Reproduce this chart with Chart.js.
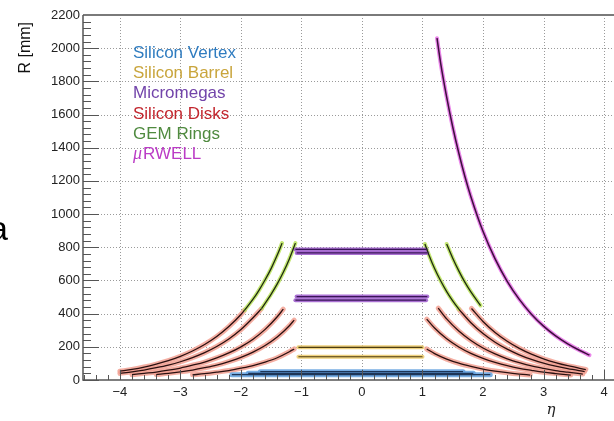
<!DOCTYPE html>
<html>
<head>
<meta charset="utf-8">
<script src="https://cdn.jsdelivr.net/npm/chart.js@4.4.1/dist/chart.umd.min.js"></script>
<style>
  html, body { margin: 0; padding: 0; background: #ffffff; }
  #wrap { width: 614px; height: 421px; position: relative; }
</style>
</head>
<body>
<div id="wrap"><canvas id="c" width="614" height="421"></canvas></div>
<script>
// ---------------- axis ticks ----------------
const xTickValues = [-4, -3, -2, -1, 0, 1, 2, 3, 4];
const xTickLabels = ['\u22124', '\u22123', '\u22122', '\u22121', '0', '1', '2', '3', '4'];
const yTickValues = [0, 200, 400, 600, 800, 1000, 1200, 1400, 1600, 1800, 2000, 2200];
const yTickLabels = ['0', '200', '400', '600', '800', '1000', '1200', '1400', '1600', '1800', '2000', '2200'];

// ---------------- legend ----------------
const legendNames = ['Silicon Vertex', 'Silicon Barrel', 'Micromegas', 'Silicon Disks', 'GEM Rings', '\u03bcRWELL'];
const legendColors = ['#2f7cc0', '#c9a53c', '#7244aa', '#c2262e', '#4f8a3f', '#bb3cc6'];

// ---------------- Silicon Vertex (eta, R[mm]) ----------------
const vtxEta1 = [-2.15, 2.12];  const vtxR1 = [32, 32];
const vtxEta2 = [-1.88, 1.84];  const vtxR2 = [40, 40];
const vtxEta3 = [-1.68, 1.67];  const vtxR3 = [50, 50];

// ---------------- Silicon Barrel ----------------
const barEta = [-1.05, 1.0];
const barR1 = [197, 197];
const barR2 = [140, 140];

// ---------------- Micromegas ----------------
const mmEtaA = [-1.10, 1.06];
const mmEtaB = [-1.08, 1.08];
const mmR1 = [787, 787];
const mmR2 = [766, 766];
const mmR3 = [503, 503];
const mmR4 = [481, 481];

// ---------------- muRWELL ----------------
const rwEta = [1.24, 1.3, 1.4, 1.5, 1.6, 1.7, 1.8, 2.0, 2.2, 2.4, 2.6, 2.8, 3.0, 3.2, 3.4, 3.6, 3.76];
const rwR   = [2060, 1910, 1705, 1525, 1368, 1228, 1105, 896, 730, 595, 486, 397, 325, 266, 218, 178, 150];

// ---------------- GEM Rings ----------------
const gemR1Eta = [1.04, 1.1, 1.2, 1.3, 1.4, 1.5, 1.6];
const gemR1R   = [820, 760, 672, 598, 533, 477, 427];
const gemR2Eta = [1.40, 1.5, 1.6, 1.7, 1.8, 1.96];
const gemR2R   = [820, 734, 658, 590, 531, 449];
const gemL1Eta = [-1.66, -1.5, -1.4, -1.3, -1.2, -1.1];
const gemL1R   = [430, 518, 579, 649, 730, 825];
const gemL2Eta = [-1.94, -1.8, -1.7, -1.6, -1.5, -1.4, -1.32];
const gemL2R   = [421, 487, 542, 604, 673, 753, 825];

// ---------------- Silicon Disks ----------------
const dRAEta = [1.81, 2.0, 2.2, 2.4, 2.6, 2.8, 3.0, 3.2, 3.4, 3.7];
const dRAR   = [431, 353, 287, 234, 191, 156, 128, 105, 86, 63];
const dRBEta = [1.6, 1.8, 2.0, 2.2, 2.4, 2.6, 2.8, 3.0, 3.2, 3.4, 3.68];
const dRBR   = [427, 345, 280, 228, 186, 152, 124, 101, 83, 68, 51];
const dRCEta = [1.26, 1.4, 1.6, 1.8, 2.0, 2.2, 2.4, 2.6, 2.8, 3.0, 3.2, 3.4, 3.65];
const dRCR   = [433, 368, 295, 238, 193, 157, 128, 105, 85, 70, 57, 47, 36];
const dRDEta = [1.07, 1.2, 1.4, 1.6, 1.8, 2.0, 2.2, 2.4, 2.6, 2.8, 3.0, 3.2, 3.45];
const dRDR   = [367, 313, 248, 199, 160, 130, 106, 86, 70, 58, 47, 39, 30];
const dREEta = [1.07, 1.2, 1.4, 1.6, 1.8, 2.0, 2.2, 2.4, 2.6, 2.78];
const dRER   = [187, 159, 126, 101, 82, 66, 54, 44, 36, 30];

const dLAEta = [-4.0, -3.8, -3.6, -3.4, -3.2, -3.0, -2.8, -2.6, -2.4, -2.2, -2.0, -1.94];
const dLAR   = [53, 64, 78, 96, 117, 143, 175, 214, 262, 322, 395, 421];
const dLBEta = [-4.0, -3.8, -3.6, -3.4, -3.2, -3.0, -2.8, -2.6, -2.4, -2.2, -2.0, -1.8, -1.66];
const dLBR   = [40, 49, 60, 74, 90, 110, 135, 165, 202, 247, 304, 375, 430];
const dLCEta = [-3.8, -3.6, -3.4, -3.2, -3.0, -2.8, -2.6, -2.4, -2.2, -2.0, -1.8, -1.6, -1.4, -1.3];
const dLCR   = [32, 40, 48, 59, 72, 89, 108, 133, 163, 200, 246, 305, 381, 427];
const dLDEta = [-3.4, -3.2, -3.0, -2.8, -2.6, -2.4, -2.2, -2.0, -1.8, -1.6, -1.4, -1.2, -1.12];
const dLDR   = [33, 40, 49, 60, 74, 90, 111, 136, 168, 208, 259, 327, 361];
const dLEEta = [-2.8, -2.6, -2.4, -2.2, -2.0, -1.8, -1.6, -1.4, -1.2, -1.12];
const dLER   = [31, 38, 47, 57, 71, 87, 108, 134, 170, 187];

// ---------------- styles ----------------
const STY = {
  vtx:  { band: 'rgba(98,160,222,0.85)', bw: 5, line: '#1d3557', lw: 1.2 },
  bar:  { band: 'rgba(236,204,112,0.9)', bw: 4, line: '#4d3d12', lw: 1.2 },
  mm:   { band: 'rgba(160,96,205,0.9)',  bw: 4, line: '#3a1458', lw: 1.2 },
  disk: { band: 'rgba(242,160,146,0.85)', bw: 5, line: '#2a1010', lw: 1.3 },
  gem:  { band: 'rgba(190,228,100,0.9)', bw: 4, line: '#1e2a10', lw: 1.3 },
  rw:   { band: 'rgba(232,120,232,0.9)', bw: 4, line: '#3d103d', lw: 1.5 }
};

const datasets = [];
function seg(label, etas, rs, s) {
  const pts = etas.map((e, i) => ({ x: e, y: rs[i] }));
  const common = { showLine: true, pointRadius: 0, pointHoverRadius: 0,
                   cubicInterpolationMode: 'monotone', fill: false };
  datasets.push(Object.assign({}, common, { label: label + ' band', data: pts,
    borderColor: s.band, borderWidth: s.bw, borderCapStyle: 'round', order: 2 }));
  datasets.push(Object.assign({}, common, { label: label, data: pts,
    borderColor: s.line, borderWidth: s.lw, order: 1 }));
}

seg('Silicon Vertex 1', vtxEta1, vtxR1, STY.vtx);
seg('Silicon Vertex 2', vtxEta2, vtxR2, STY.vtx);
seg('Silicon Vertex 3', vtxEta3, vtxR3, STY.vtx);
seg('Silicon Barrel 1', barEta, barR1, STY.bar);
seg('Silicon Barrel 2', barEta, barR2, STY.bar);
seg('Micromegas 1', mmEtaA, mmR1, STY.mm);
seg('Micromegas 2', mmEtaB, mmR2, STY.mm);
seg('Micromegas 3', mmEtaB, mmR3, STY.mm);
seg('Micromegas 4', mmEtaA, mmR4, STY.mm);
seg('muRWELL', rwEta, rwR, STY.rw);
seg('GEM R1', gemR1Eta, gemR1R, STY.gem);
seg('GEM R2', gemR2Eta, gemR2R, STY.gem);
seg('GEM L1', gemL1Eta, gemL1R, STY.gem);
seg('GEM L2', gemL2Eta, gemL2R, STY.gem);
seg('Disk RA', dRAEta, dRAR, STY.disk);
seg('Disk RB', dRBEta, dRBR, STY.disk);
seg('Disk RC', dRCEta, dRCR, STY.disk);
seg('Disk RD', dRDEta, dRDR, STY.disk);
seg('Disk RE', dREEta, dRER, STY.disk);
seg('Disk LA', dLAEta, dLAR, STY.disk);
seg('Disk LB', dLBEta, dLBR, STY.disk);
seg('Disk LC', dLCEta, dLCR, STY.disk);
seg('Disk LD', dLDEta, dLDR, STY.disk);
seg('Disk LE', dLEEta, dLER, STY.disk);

const SANS = '"Liberation Sans", Arial, Helvetica, sans-serif';

const decor = {
  id: 'decor',
  beforeDatasetsDraw(chart) {
    const { ctx, chartArea: a, scales: { x, y } } = chart;
    ctx.save();
    ctx.strokeStyle = '#9a9a9a';
    ctx.lineWidth = 1;
    ctx.setLineDash([1, 2]);
    xTickValues.forEach(v => {
      const px = Math.round(x.getPixelForValue(v)) + 0.5;
      ctx.beginPath(); ctx.moveTo(px, a.top); ctx.lineTo(px, a.bottom); ctx.stroke();
    });
    yTickValues.forEach(v => {
      if (v === 0) return;
      const py = Math.round(y.getPixelForValue(v)) + 0.5;
      ctx.beginPath(); ctx.moveTo(a.left, py); ctx.lineTo(a.right, py); ctx.stroke();
    });
    ctx.restore();
  },
  afterDatasetsDraw(chart) {
    const { ctx, chartArea: a, scales: { x, y } } = chart;
    ctx.save();
    // ticks
    ctx.strokeStyle = '#555';
    ctx.lineWidth = 1;
    const xMin = x.min, xMax = x.max;
    for (let k = Math.ceil(xMin / 0.2); k * 0.2 <= xMax + 1e-9; k++) {
      const v = k * 0.2;
      const major = Math.abs(v - Math.round(v)) < 1e-6;
      const px = Math.round(x.getPixelForValue(v)) + 0.5;
      ctx.beginPath(); ctx.moveTo(px, a.bottom); ctx.lineTo(px, a.bottom - (major ? 10 : 5)); ctx.stroke();
    }
    for (let v = 0; v <= 2200; v += 40) {
      const major = v % 200 === 0;
      const py = Math.round(y.getPixelForValue(v)) + 0.5;
      ctx.beginPath(); ctx.moveTo(a.left, py); ctx.lineTo(a.left + (major ? 16 : 8), py); ctx.stroke();
    }
    // frame
    ctx.strokeStyle = '#7a7a7a';
    ctx.lineWidth = 2;
    ctx.beginPath(); ctx.moveTo(a.left, a.top); ctx.lineTo(a.right, a.top); ctx.stroke();
    ctx.strokeStyle = '#555';
    ctx.lineWidth = 1.5;
    ctx.beginPath(); ctx.moveTo(a.left, a.top); ctx.lineTo(a.left, a.bottom); ctx.lineTo(a.right, a.bottom); ctx.stroke();

    // legend
    ctx.textBaseline = 'middle';
    ctx.textAlign = 'left';
    const ly = [53, 73, 93, 114, 134, 154];
    legendNames.forEach((name, i) => {
      ctx.fillStyle = legendColors[i];
      if (name.charAt(0) === '\u03bc') {
        ctx.font = 'italic 18px "Liberation Serif", "Times New Roman", serif';
        ctx.fillText('\u03bc', 133, ly[i]);
        const w = ctx.measureText('\u03bc').width;
        ctx.font = '17px ' + SANS;
        ctx.fillText(name.slice(1), 133 + w + 1, ly[i]);
      } else {
        ctx.font = '17px ' + SANS;
        ctx.fillText(name, 133, ly[i]);
      }
    });

    // axis titles
    ctx.fillStyle = '#111';
    ctx.save();
    ctx.translate(30, 22);
    ctx.rotate(-Math.PI / 2);
    ctx.textAlign = 'right';
    ctx.textBaseline = 'alphabetic';
    ctx.font = '16px ' + SANS;
    ctx.fillText('R [mm]', 0, 0);
    ctx.restore();

    ctx.textAlign = 'center';
    ctx.textBaseline = 'alphabetic';
    ctx.font = 'italic 15px "DejaVu Serif", serif';
    ctx.fillStyle = '#222';
    ctx.fillText('\u03b7', 551, 414);

    // stray panel letter, clipped at the left edge
    ctx.textAlign = 'left';
    ctx.font = '34px ' + SANS;
    ctx.fillStyle = '#000';
    ctx.fillText('a', -11, 240);
    ctx.restore();
  }
};

new Chart(document.getElementById('c'), {
  type: 'scatter',
  data: { datasets },
  options: {
    responsive: false,
    devicePixelRatio: 1,
    animation: false,
    events: [],
    layout: { padding: { top: 15, right: 0, left: 0, bottom: 0 } },
    plugins: { legend: { display: false }, tooltip: { enabled: false }, title: { display: false } },
    scales: {
      x: {
        type: 'linear',
        min: -4.61, max: 4.165,
        grid: { display: false, drawTicks: false },
        border: { display: false },
        afterBuildTicks: s => { s.ticks = xTickValues.map(v => ({ value: v })); },
        afterFit: s => { s.height = 41; },
        ticks: {
          padding: 5,
          color: '#222',
          font: { family: SANS, size: 13 },
          maxRotation: 0,
          autoSkip: false,
          callback: (v) => { const i = xTickValues.indexOf(v); return i >= 0 ? xTickLabels[i] : ''; }
        }
      },
      y: {
        type: 'linear',
        min: 0, max: 2200,
        grid: { display: false, drawTicks: false },
        border: { display: false },
        afterBuildTicks: s => { s.ticks = yTickValues.map(v => ({ value: v })); },
        afterFit: s => { s.width = 83; },
        ticks: {
          padding: 3,
          color: '#222',
          font: { family: SANS, size: 13 },
          autoSkip: false,
          callback: (v) => { const i = yTickValues.indexOf(v); return i >= 0 ? yTickLabels[i] : ''; }
        }
      }
    }
  },
  plugins: [decor]
});
</script>
</body>
</html>
